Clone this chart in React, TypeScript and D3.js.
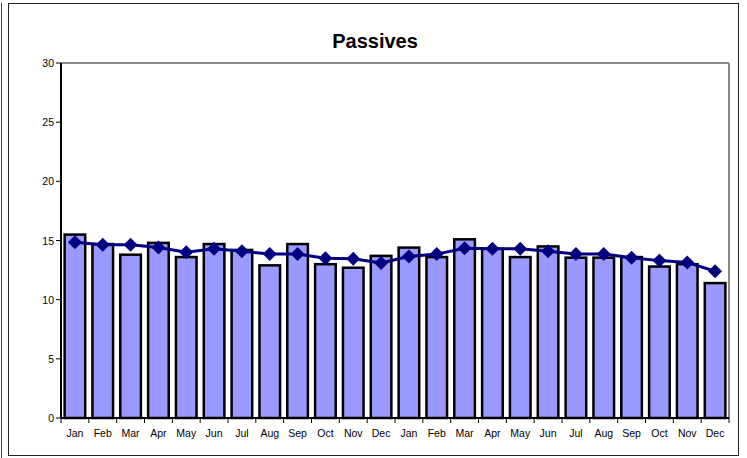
import React from "react";
import * as d3 from "d3";

const months = ["Jan", "Feb", "Mar", "Apr", "May", "Jun", "Jul", "Aug", "Sep", "Oct", "Nov", "Dec",
  "Jan", "Feb", "Mar", "Apr", "May", "Jun", "Jul", "Aug", "Sep", "Oct", "Nov", "Dec"];
const barValues = [15.5, 14.7, 13.8, 14.8, 13.6, 14.7, 14.2, 12.9, 14.7, 13.0, 12.7, 13.7,
  14.4, 13.6, 15.1, 14.3, 13.6, 14.5, 13.55, 13.55, 13.6, 12.8, 13.0, 11.4];
const lineValues = [14.85, 14.65, 14.65, 14.4, 14.0, 14.3, 14.1, 13.85, 13.85, 13.5, 13.45, 13.1,
  13.65, 13.85, 14.35, 14.3, 14.3, 14.1, 13.85, 13.85, 13.55, 13.3, 13.15, 12.4];
const yTicks = [0, 5, 10, 15, 20, 25, 30];

const W = 747, H = 458;
const left = 61, right = 729, top = 63, bottom = 418;
const font = "'Liberation Sans', Arial, sans-serif";

export default function App() {
  const keys = months.map((m, i) => i);
  const x = d3.scaleBand<number>().domain(keys).range([left, right]).paddingInner(0.26).paddingOuter(0.13);
  const step = x.step();
  const y = d3.scaleLinear().domain([0, 30]).range([bottom, top]);

  const line = d3.line<number>()
    .x((d, i) => x(i)! + x.bandwidth() / 2)
    .y(d => y(d));

  // diamond marker
  const diamond = d3.symbol().type(d3.symbolDiamond2).size(125)();

  return (
    <svg width={W} height={H} style={{ position: "absolute", left: 0, top: 0 }}>
      <rect x={0} y={0} width={W} height={H} fill="#fff" />
      <line x1={1.5} y1={3} x2={1.5} y2={H} stroke="#444" />
      <rect x={8.5} y={3.5} width={730} height={452} fill="none" stroke="#222" />
      <text x={375} y={48} textAnchor="middle" fontFamily={font} fontWeight="bold" fontSize={20}>Passives</text>

      {/* plot frame: gray top and right */}
      <line x1={left} y1={top} x2={right} y2={top} stroke="#888" strokeWidth={2} />
      <line x1={right} y1={top} x2={right} y2={bottom} stroke="#888" strokeWidth={2} />

      {barValues.map((v, i) => (
        <rect key={i} x={x(i)} y={y(v)} width={x.bandwidth()} height={bottom - y(v)}
          fill="#9999ff" stroke="#000" strokeWidth={2.5} />
      ))}

      {/* y axis */}
      <line x1={left} y1={top} x2={left} y2={bottom} stroke="#000" strokeWidth={2} />
      {yTicks.map(t => (
        <g key={t}>
          <line x1={left - 5} x2={left} y1={y(t)} y2={y(t)} stroke="#000" />
          <text x={54} y={y(t) + 4} textAnchor="end" fontFamily={font} fontSize={10.5}>{t}</text>
        </g>
      ))}

      {/* x axis */}
      <line x1={left} y1={bottom} x2={right} y2={bottom} stroke="#000" strokeWidth={2} />
      {d3.range(keys.length + 1).map(i => (
        <line key={i} x1={left + i * step} x2={left + i * step} y1={bottom} y2={bottom + 5} stroke="#000" />
      ))}
      {months.map((m, i) => (
        <text key={i} x={x(i)! + x.bandwidth() / 2} y={437} textAnchor="middle" fontFamily={font} fontSize={10.5}>{m}</text>
      ))}

      <path d={line(lineValues)!} fill="none" stroke="#000080" strokeWidth={3} />
      {lineValues.map((v, i) => (
        <path key={i} d={diamond!} transform={`translate(${x(i)! + x.bandwidth() / 2},${y(v)})`} fill="#000080" />
      ))}
    </svg>
  );
}
